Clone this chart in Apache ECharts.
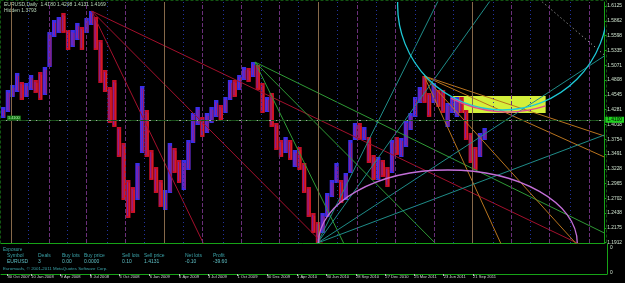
<!DOCTYPE html>
<html><head><meta charset="utf-8">
<style>html,body{margin:0;padding:0;background:#000;}#c{width:625px;height:283px;}</style>
<script src="https://cdn.jsdelivr.net/npm/echarts@6/dist/echarts.min.js"></script>
</head><body><div id="c"></div>
<script>
// ---------- data ----------
const periodStart = '2007-10-17';   // centre of the first two-week bucket
const periodDays = 14.2;
const highs = [1.4327,1.4630,1.4719,1.4933,1.4772,1.4755,1.4897,1.4808,1.4950,1.5039,
1.5662,1.5876,1.5929,1.6001,1.5698,1.5698,1.5823,1.5751,1.5912,1.6036,
1.5929,1.5520,1.4986,1.4683,1.4808,1.3971,1.3687,1.3028,1.2903,1.3331,
1.4701,1.4274,1.3562,1.3259,1.3028,1.2850,1.3687,1.3598,1.3384,1.3384,
1.3740,1.4221,1.4327,1.4149,1.4221,1.4327,1.4452,1.4363,1.4505,1.4808,
1.4808,1.4897,1.5039,1.5022,1.5128,1.5075,1.4755,1.4505,1.4577,1.4043,
1.3740,1.3793,1.3740,1.3562,1.3615,1.3331,1.2903,1.2441,1.2280,1.2441,
1.2797,1.3028,1.3331,1.3028,1.3153,1.3740,1.4043,1.4043,1.3971,1.3793,
1.3473,1.3437,1.3384,1.3259,1.3740,1.3793,1.3776,1.4096,1.4221,1.4505,
1.4683,1.4879,1.4577,1.4755,1.4630,1.4630,1.4399,1.4505,1.4505,1.4505,
1.4274,1.3865,1.3615,1.3865,1.3954];
const lows = [1.4132,1.4238,1.4505,1.4594,1.4452,1.4505,1.4630,1.4577,1.4452,1.4541,
1.5039,1.5573,1.5645,1.5645,1.5342,1.5395,1.5520,1.5342,1.5645,1.5787,
1.5342,1.4755,1.4594,1.4043,1.3971,1.3437,1.2672,1.2352,1.2441,1.2672,
1.3509,1.3437,1.3028,1.2797,1.2548,1.2494,1.2797,1.3153,1.2975,1.2850,
1.3206,1.3687,1.4007,1.3793,1.3865,1.4043,1.4149,1.4096,1.4221,1.4452,
1.4505,1.4630,1.4808,1.4772,1.4861,1.4630,1.4221,1.4238,1.3971,1.3562,
1.3437,1.3509,1.3384,1.3259,1.3206,1.2797,1.2370,1.2085,1.1907,1.2085,
1.2370,1.2725,1.2975,1.2619,1.2672,1.3153,1.3740,1.3740,1.3740,1.3331,
1.3028,1.3028,1.3081,1.2903,1.3153,1.3473,1.3437,1.3615,1.3918,1.4149,
1.4399,1.4399,1.4149,1.4399,1.4327,1.4221,1.3971,1.4221,1.4149,1.4221,
1.3740,1.3331,1.3206,1.3437,1.3740];
const closes = [1.4274,1.4523,1.4666,1.4701,1.4559,1.4666,1.4808,1.4701,1.4594,1.4950,
1.5520,1.5734,1.5840,1.5769,1.5484,1.5520,1.5662,1.5627,1.5840,1.5947,
1.5484,1.4897,1.4719,1.4274,1.4096,1.3562,1.2939,1.2708,1.2672,1.3206,
1.4274,1.3651,1.3206,1.2939,1.2672,1.2708,1.3562,1.3295,1.3117,1.3242,
1.3651,1.4132,1.4132,1.3954,1.4132,1.4221,1.4327,1.4274,1.4452,1.4701,
1.4630,1.4844,1.4950,1.4915,1.5057,1.4719,1.4363,1.4452,1.4096,1.3651,
1.3526,1.3704,1.3473,1.3473,1.3295,1.2886,1.2494,1.2209,1.2138,1.2352,
1.2708,1.2886,1.3170,1.2708,1.3064,1.3651,1.3918,1.3882,1.3882,1.3473,
1.3206,1.3295,1.3242,1.3064,1.3651,1.3598,1.3740,1.4007,1.4132,1.4452,
1.4630,1.4541,1.4452,1.4541,1.4488,1.4310,1.4310,1.4363,1.4399,1.4363,
1.3829,1.3420,1.3384,1.3740,1.3829];
const firstOpen = 1.4185;

const priceTicks = [1.6125,1.5862,1.5598,1.5335,1.5071,1.4808,1.4545,1.4281,1.4018,1.3754,1.3491,1.3228,1.2965,1.2702,1.2438,1.2175,1.1912];
const dateTicks = ['2007-10-30','2008-01-10','2008-04-09','2008-07-08','2008-10-06','2009-01-06','2009-04-06','2009-07-03','2009-10-01','2009-12-30','2010-04-01','2010-06-30','2010-09-28','2010-12-27','2011-03-25','2011-06-23','2011-09-21'];
const axisRange = ['2007-10-10','2012-11-03'];
const priceRange = [1.1907, 1.6196];

// trend lines: [startDate, startPrice, endDate, endPrice]
const redRays = [
  ['2008-07-14',1.6036,'2012-11-03',1.1675],
  ['2008-07-14',1.6036,'2010-08-10',1.1622],
  ['2008-07-14',1.6036,'2009-07-15',1.1622]];
const greenRays = [
  ['2009-11-27',1.5128,'2012-11-03',1.2085],
  ['2009-11-27',1.5128,'2011-07-31',1.1568],
  ['2009-11-27',1.5128,'2010-09-25',1.1551]];
const orangeRays = [
  ['2011-04-30',1.4879,'2012-11-03',1.3437],
  ['2011-04-30',1.4879,'2012-11-03',1.3811],
  ['2011-04-30',1.4879,'2012-01-11',1.1640],
  ['2011-04-30',1.4879,'2012-09-12',1.1675]];
const tealRays = [
  ['2010-06-07',1.1907,'2011-06-15',1.6250],
  ['2010-06-07',1.1907,'2011-11-27',1.6285],
  ['2010-06-07',1.1907,'2012-11-03',1.3829],
  ['2010-06-07',1.1907,'2012-11-03',1.5235]];
const greyRays = [
  ['2012-04-27',1.6196,'2012-11-03',1.5253]];
// circle: centre date, centre price, price at lowest point
const cyanCircle = ['2011-12-27',1.6143,1.4274];
// half ellipse: centre date, centre price, right edge date, top price
const violetArc = ['2011-07-12',1.1907,'2012-08-12',1.3206];
// arc: centre date, centre price, lowest price, from date, to date
const pinkArc = ['2012-01-11',1.6428,1.4238,'2011-07-21','2012-05-07'];
const zoneBox = ['2011-07-28',1.4523,'2012-05-07',1.4221];
const yearSeparators = ['2007-11-09','2009-02-22','2010-06-10','2011-09-24'];
const quarterSeparators = ['2008-03-05','2008-06-29','2008-10-26','2009-06-18','2009-10-15','2010-02-11','2010-10-07','2011-01-31','2011-05-30','2012-01-21','2012-05-19','2012-09-18'];
const midSeparators = ['2008-01-03','2008-05-01','2008-09-01','2008-12-23','2009-04-21','2009-08-21','2009-12-15','2010-04-10','2010-08-07','2010-12-04','2011-04-02','2011-07-28','2011-11-27','2012-03-22','2012-07-22'];
const levelLines = [1.4131, 1.4114, 1.4060];
const headerText = 'EURUSD,Daily  1.4180 1.4298 1.4131 1.4169';
const header2Text = 'Hidden 1.3793';
const exposureCols = ['Symbol','Deals','Buy lots','Buy price','Sell lots','Sell price','Net lots','Profit'];
const exposureRow = ['EURUSD','3','0.00','0.0000','0.10','1.4131','-0.10','-39.60'];
const footerText = 'Euromaafs, \u00a9 2001-2011 MetaQuotes Software Corp.';

// ---------- build ----------
const MS_DAY = 86400000;
const t = s => Date.parse(s + 'T00:00:00Z');
const MON = ['Jan','Feb','Mar','Apr','May','Jun','Jul','Aug','Sep','Oct','Nov','Dec'];
const fmtDate = v => { const d = new Date(v); return d.getUTCDate() + ' ' + MON[d.getUTCMonth()] + ' ' + d.getUTCFullYear(); };

const bars = closes.map((c, i) => {
  const o = i === 0 ? firstOpen : closes[i - 1];
  return [t(periodStart) + i * periodDays * MS_DAY, o, c, lows[i], highs[i]];
});

const FONT = 'Liberation Sans';
const GREEN = '#17a317';
const txt = (x, y, s, color, size) => ({type:'text', x, y, silent:true, style:{text:s, fill:color, font: size + 'px "' + FONT + '"'}});

function rayGroup(arr, color, name, dash) {
  return arr.map((r, k) => ({
    type:'line', name: name + k, xAxisIndex:0, yAxisIndex:0, z:4,
    data:[[t(r[0]), r[1]], [t(r[2]), r[3]]],
    showSymbol:false, symbol:'none', silent:true, clip:true,
    lineStyle:{color, width:1, type: dash || 'solid'}
  }));
}

const vlines = [];
yearSeparators.forEach(d => vlines.push({xAxis:t(d), lineStyle:{color:'#86694a', type:'solid', width:1}}));
quarterSeparators.forEach(d => vlines.push({xAxis:t(d), lineStyle:{color:'#6a2f7a', type:[4,2], width:1}}));
midSeparators.forEach(d => vlines.push({xAxis:t(d), lineStyle:{color:'#22339f', type:[1,3], width:1}}));

const levelLabel = {show:true, position:'insideStartTop', distance:[6,0], formatter: p => Number(p.value).toFixed(4),
  backgroundColor:'#177a17', color:'#aee8ae', fontSize:3.8, fontFamily:FONT, padding:[0,1,0,1]};

const option = {
  backgroundColor:'#000',
  animation:false,
  grid:[
    {left:1, right:18, top:2, height:241, show:false},
    {left:1, right:18, top:244, height:30, show:false}
  ],
  xAxis:[
    {type:'value', gridIndex:0, min:t(axisRange[0]), max:t(axisRange[1]),
     axisLine:{show:true, lineStyle:{color:GREEN, width:1}}, axisTick:{show:false}, axisLabel:{show:false}, splitLine:{show:false}},
    {type:'value', gridIndex:1, min:t(axisRange[0]), max:t(axisRange[1]),
     axisLine:{show:true, lineStyle:{color:GREEN, width:1}},
     axisTick:{show:true, length:2, lineStyle:{color:'#bbbbbb'}, customValues: dateTicks.map(t)},
     axisLabel:{show:true, customValues: dateTicks.map(t), formatter: v => fmtDate(v), align:'left', margin:1,
       color:'#d6d6d6', fontSize:4.1, fontFamily:FONT, hideOverlap:false, showMinLabel:true, showMaxLabel:true},
     splitLine:{show:false}}
  ],
  yAxis:[
    {type:'value', gridIndex:0, position:'right', min:priceRange[0], max:priceRange[1],
     axisLine:{show:true, lineStyle:{color:GREEN, width:1}},
     axisTick:{show:true, length:2, customValues: priceTicks, lineStyle:{color:GREEN}},
     axisLabel:{show:true, customValues: priceTicks, formatter: v => v.toFixed(4), margin:3,
       color:'#cfe3cf', fontSize:4.8, fontFamily:FONT},
     splitLine:{show:false}},
    {type:'value', gridIndex:1, position:'right', min:0, max:1,
     axisLine:{show:true, lineStyle:{color:GREEN, width:1}}, axisTick:{show:false}, axisLabel:{show:false}, splitLine:{show:false}}
  ],
  series:[
    {type:'line', name:'separators', data:[], xAxisIndex:0, yAxisIndex:0, z:1, silent:true,
     markLine:{symbol:'none', silent:true, label:{show:false}, data:vlines},
     markArea:{silent:true, itemStyle:{color:'#d4ef3b', opacity:1},
       data:[[{xAxis:t(zoneBox[0]), yAxis:zoneBox[1]}, {xAxis:t(zoneBox[2]), yAxis:zoneBox[3]}]]}},
    {type:'line', name:'levels', data:[], xAxisIndex:0, yAxisIndex:0, z:2, silent:true,
     markLine:{symbol:'none', silent:true, data:[
       {yAxis:levelLines[0], lineStyle:{color:'#a3aea3', type:'solid', width:1},
        label:{show:true, position:'end', formatter: p => Number(p.value).toFixed(4), distance:1,
          backgroundColor:'#1fcf1f', color:'#000', fontSize:4.8, fontFamily:FONT, padding:[1,2,0,2]}},
       {yAxis:levelLines[1], lineStyle:{color:'#2d6d2d', type:[4,2], width:1}, label:levelLabel},
       {yAxis:levelLines[2], lineStyle:{color:'#1a4a1a', type:[5,2,1,2], width:1}, label:levelLabel}
     ]}},
    {type:'custom', name:'EURUSD', xAxisIndex:0, yAxisIndex:0, z:3, clip:true, silent:true,
     data:bars, encode:{x:0, y:[3,4]},
     renderItem:(params, api) => {
       const hi = api.coord([api.value(0), api.value(4)]);
       const lo = api.coord([api.value(0), api.value(3)]);
       const up = api.value(2) >= api.value(1);
       const w = 4.4;
       return {type:'group', children:[
         {type:'rect', shape:{x:hi[0]-w/2, y:hi[1], width:w, height:Math.max(1, lo[1]-hi[1])},
          style:{fill: up ? '#3a2ee8' : '#c40f2a'}},
         {type:'line', shape:{x1:hi[0]-0.7, y1:hi[1]+2, x2:hi[0]-0.7, y2:lo[1]-2},
          style:{stroke: up ? '#8a22a8' : '#7c24a6', lineWidth:1}},
         {type:'line', shape:{x1:hi[0]+1.3, y1:hi[1]+3, x2:hi[0]+1.3, y2:lo[1]-1},
          style:{stroke: up ? '#c01838' : '#e4241c', lineWidth:0.8}}
       ]};
     }},
    ...rayGroup(redRays, '#a3102c', 'red'),
    ...rayGroup(greenRays, '#2f9a35', 'green'),
    ...rayGroup(orangeRays, '#b8741e', 'orange'),
    ...rayGroup(tealRays, '#1f8c88', 'teal'),
    ...rayGroup(greyRays, '#c8c8c8', 'grey', [1,3]),
    {type:'custom', name:'cyanCircle', xAxisIndex:0, yAxisIndex:0, z:5, clip:true, silent:true,
     data:[[t(cyanCircle[0]), cyanCircle[1], cyanCircle[2]]],
     renderItem:(params, api) => {
       const c = api.coord([api.value(0), api.value(1)]);
       const b = api.coord([api.value(0), api.value(2)]);
       return {type:'circle', shape:{cx:c[0], cy:c[1], r:Math.abs(b[1]-c[1])},
         style:{fill:'none', stroke:'#1ec9d6', lineWidth:1.3}};
     }},
    {type:'custom', name:'violetArc', xAxisIndex:0, yAxisIndex:0, z:5, clip:true, silent:true,
     data:[[t(violetArc[0]), violetArc[1], t(violetArc[2]), violetArc[3]]],
     renderItem:(params, api) => {
       const c = api.coord([api.value(0), api.value(1)]);
       const e = api.coord([api.value(2), api.value(1)]);
       const top = api.coord([api.value(0), api.value(3)]);
       return {type:'ellipse', shape:{cx:c[0], cy:c[1], rx:Math.abs(e[0]-c[0]), ry:Math.abs(c[1]-top[1])},
         style:{fill:'none', stroke:'#c36fd8', lineWidth:1.3}};
     }},
    {type:'custom', name:'pinkArc', xAxisIndex:0, yAxisIndex:0, z:5, clip:true, silent:true,
     data:[[t(pinkArc[0]), pinkArc[1], pinkArc[2], t(pinkArc[3]), t(pinkArc[4])]],
     renderItem:(params, api) => {
       const c = api.coord([api.value(0), api.value(1)]);
       const b = api.coord([api.value(0), api.value(2)]);
       const r = Math.abs(b[1]-c[1]);
       const x1 = api.coord([api.value(3), api.value(2)])[0];
       const x2 = api.coord([api.value(4), api.value(2)])[0];
       const a1 = Math.acos(Math.max(-1, Math.min(1, (x2 - c[0]) / r)));
       const a2 = Math.acos(Math.max(-1, Math.min(1, (x1 - c[0]) / r)));
       return {type:'arc', shape:{cx:c[0], cy:c[1], r, startAngle:a1, endAngle:a2, clockwise:true},
         style:{fill:'none', stroke:'#e0478f', lineWidth:1.3}};
     }}
  ],
  graphic:[
    {type:'rect', shape:{x:0.5, y:0.5, width:606, height:243}, style:{fill:'none', stroke:'#125512', lineWidth:1, lineDash:[3,2]}, z:-1, silent:true},
    txt(4, 2, headerText, '#b9d7b9', 5),
    txt(4, 8, header2Text, '#b9d7b9', 5),
    txt(3, 247, 'Exposure', '#3aa2a8', 4.6),
    ...exposureCols.map((s, i) => txt([7,38,62,84,122,144,185,213][i], 253, s, '#3aa2a8', 5)),
    ...exposureRow.map((s, i) => txt([7,38,62,84,122,144,185,213][i], 259.5, s, '#5fc0c6', 5)),
    txt(3, 267, footerText, '#3aa2a8', 4.4),
    txt(610, 245, '0', '#cfe3cf', 4.8),
    txt(610, 270, '0', '#cfe3cf', 4.8)
  ]
};
const chart = echarts.init(document.getElementById('c'), null, {renderer:'canvas'});
chart.setOption(option);
</script></body></html>
